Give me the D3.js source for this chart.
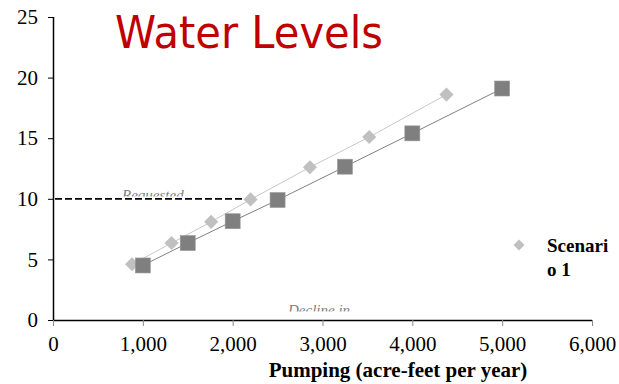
<!DOCTYPE html>
<html>
<head>
<meta charset="utf-8">
<script src="https://cdn.jsdelivr.net/npm/d3@7"></script>
<style>
  html, body { margin: 0; padding: 0; background: #fff; }
  svg { display: block; }
  .serif { font-family: "Liberation Serif", "Times New Roman", serif; }
</style>
</head>
<body>
<svg id="chart" width="619" height="384"></svg>
<script>
// Pumping rate (acre-feet per year) and resulting water level decline
const scenario1Pumping = [880, 1320, 1760, 2200, 2860, 3520, 4380];
const scenario1Level   = [4.6, 6.35, 8.1, 9.95, 12.6, 15.1, 18.6];
const scenario2Pumping = [1000, 1500, 2000, 2500, 3250, 4000, 5000];
const scenario2Level   = [4.5, 6.35, 8.15, 9.9, 12.65, 15.4, 19.1];
const xTicks = [0, 1000, 2000, 3000, 4000, 5000, 6000];
const yTicks = [0, 5, 10, 15, 20, 25];
const requestedLevel = 10;
const requestedPumping = 2150;

const svg = d3.select("#chart");
const x = d3.scaleLinear().domain([0, 6000]).range([53, 592]);
const y = d3.scaleLinear().domain([0, 25]).range([320, 17]);

const serif = '"Liberation Serif", "Times New Roman", serif';

// Axes
const xAxis = svg.append("g")
  .attr("transform", `translate(0,${y(0)})`)
  .call(d3.axisBottom(x).tickValues(xTicks).tickFormat(d3.format(",")).tickSize(6).tickPadding(10));
xAxis.attr("font-family", null);
xAxis.select(".domain").attr("stroke", "#000").attr("stroke-width", 1.5).attr("d", `M${x(0)},0.5H${x(6000)}`);
xAxis.selectAll(".tick line").attr("stroke", "#888");
xAxis.selectAll(".tick text").attr("class", "serif").style("font-family", serif)
  .attr("font-size", 21).attr("fill", "#000");

const yAxis = svg.append("g")
  .attr("transform", `translate(${x(0)},0)`)
  .call(d3.axisLeft(y).tickValues(yTicks).tickSize(5).tickPadding(10));
yAxis.attr("font-family", null);
yAxis.select(".domain").attr("stroke", "#000").attr("stroke-width", 1.5).attr("d", `M0.5,${y(25)}V${y(0)}`);
yAxis.selectAll(".tick line").attr("stroke", "#000");
yAxis.selectAll(".tick text").attr("class", "serif").style("font-family", serif)
  .attr("font-size", 21).attr("fill", "#000");

// Annotation labels partially hidden by their text boxes
const defs = svg.append("defs");
defs.append("clipPath").attr("id", "clipReq")
  .append("rect").attr("x", 100).attr("y", 170).attr("width", 120).attr("height", 26.5);
defs.append("clipPath").attr("id", "clipDec")
  .append("rect").attr("x", 260).attr("y", 290).attr("width", 120).attr("height", 21.5);

svg.append("text").attr("clip-path", "url(#clipReq)")
  .attr("x", 122).attr("y", 200).style("font-family", serif)
  .attr("font-style", "italic").attr("font-size", 15)
  .attr("fill", "#808080").text("Requested");
svg.append("text").attr("clip-path", "url(#clipDec)")
  .attr("x", 288).attr("y", 315).style("font-family", serif)
  .attr("font-style", "italic").attr("font-size", 15)
  .attr("fill", "#808080").text("Decline in");

// Requested level reference line
svg.append("line")
  .attr("x1", x(0) + 2).attr("x2", x(requestedPumping))
  .attr("y1", y(requestedLevel)).attr("y2", y(requestedLevel))
  .attr("stroke", "#000").attr("stroke-width", 1.8).attr("stroke-dasharray", "7,3");

// Series lines
const s1 = scenario1Pumping.map((p, i) => [p, scenario1Level[i]]);
const s2 = scenario2Pumping.map((p, i) => [p, scenario2Level[i]]);
const line = d3.line().x(d => x(d[0])).y(d => y(d[1]));

svg.append("path").attr("d", line(s1)).attr("fill", "none").attr("stroke", "#c8c8c8").attr("stroke-width", 1);
svg.append("path").attr("d", line(s2)).attr("fill", "none").attr("stroke", "#808080").attr("stroke-width", 1);

// Scenario 1 markers (diamonds)
const diamond = d3.symbol().type(d3.symbolSquare).size(100);
svg.append("g").selectAll("path").data(s1).join("path")
  .attr("d", diamond)
  .attr("transform", d => `translate(${x(d[0])},${y(d[1])}) rotate(45)`)
  .attr("fill", "#c0c0c0");

// Scenario 2 markers (squares)
svg.append("g").selectAll("rect").data(s2).join("rect")
  .attr("x", d => x(d[0]) - 7.5).attr("y", d => y(d[1]) - 7.5)
  .attr("width", 15).attr("height", 15)
  .attr("fill", "#7f7f7f").attr("stroke", "#999").attr("stroke-width", 0.6);

// Legend
svg.append("path").attr("d", d3.symbol().type(d3.symbolSquare).size(60)())
  .attr("transform", "translate(519,245) rotate(45)").attr("fill", "#c0c0c0");
svg.append("text").attr("x", 547).attr("y", 252).style("font-family", serif)
  .attr("font-weight", "bold").attr("font-size", 19).attr("fill", "#000")
  .text("Scenari");
svg.append("text").attr("x", 547).attr("y", 276).style("font-family", serif)
  .attr("font-weight", "bold").attr("font-size", 19).attr("fill", "#000")
  .text("o 1");

// Axis title
svg.append("text").attr("x", 398).attr("y", 377).attr("text-anchor", "middle")
  .style("font-family", serif).attr("font-weight", "bold").attr("font-size", 21).attr("fill", "#000")
  .text("Pumping (acre-feet per year)");

// Chart title
svg.append("text").attr("x", 115).attr("y", 48)
  .style("font-family", '"DejaVu Sans", sans-serif').attr("font-size", 44)
  .attr("textLength", 268).attr("lengthAdjust", "spacingAndGlyphs")
  .attr("fill", "#c00000").text("Water Levels");
</script>
</body>
</html>
